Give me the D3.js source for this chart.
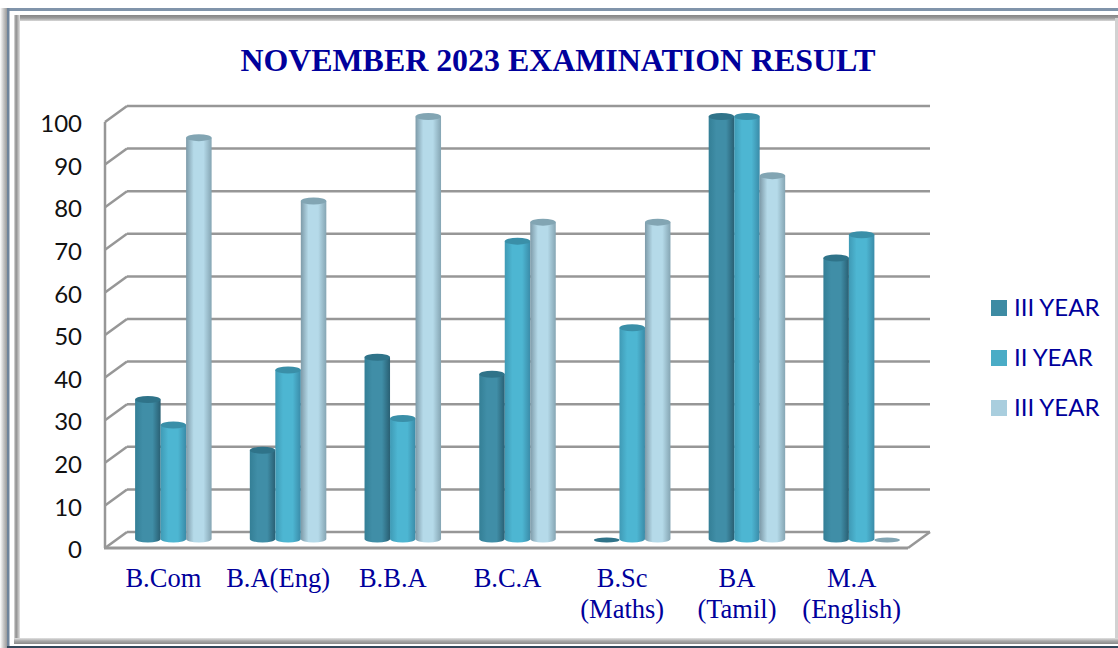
<!DOCTYPE html>
<html>
    <head>
        <title>November 2023 Examination Result</title>
        <script src="https://d3js.org/d3.v7.min.js"></script>
        <style>
            html, body { margin:0; padding:0; background:#fff; overflow:hidden; }
        </style>
    </head>
    <body>
        <svg id="graph" width="1118" height="648"></svg>
        <script>
            const categories = [["B.Com"],["B.A(Eng)"],["B.B.A"],["B.C.A"],["B.Sc","(Maths)"],["BA","(Tamil)"],["M.A","(English)"]];
            const seriesNames = ["III YEAR","II YEAR","III YEAR"];
            const seriesA = [33,21,43,39,0,100,66.5];
            const seriesB = [27,40,28.5,70.5,50,100,72];
            const seriesC = [95,80,100,75,75,86,0];
            const yTicks = [0,10,20,30,40,50,60,70,80,90,100];

            const svg = d3.select("#graph");
            const navy = "#00009c";
            const gridColor = "#979797";

            // front plane of the 3d box, back wall is shifted by depth
            const depthX = 22, depthY = -16;
            const y = d3.scaleLinear().domain([0,100]).range([548,122]);
            const x = d3.scaleBand().domain(d3.range(categories.length)).range([105,908]);
            const barW = 25.5;
            const xs = d3.scaleBand().domain([0,1,2]).range([0,barW*3]);
            const groupOffset = (x.bandwidth()-barW*3)/2 + depthX/2;
            const ry = 3.5;
            // bars sit in the middle of the floor and are a bit shorter than the wall
            const barH = d3.scaleLinear().domain([0,100]).range([0,422.5]);
            const baseY = 539;

            const colors = [
                {left:"#347f96", mid:"#408ea7", right:"#295f73", top:"#2f7389"},
                {left:"#3f9ab5", mid:"#4db6d2", right:"#3a8ba8", top:"#3a8fa8"},
                {left:"#7d9aa8", mid:"#b5dae9", right:"#85a5b3", top:"#82a5b3"}
            ];

            const defs = svg.append("defs");
            colors.forEach((c,i)=>{
                const g = defs.append("linearGradient").attr("id","cyl"+i);
                g.append("stop").attr("offset","0%").attr("stop-color",c.left);
                g.append("stop").attr("offset","30%").attr("stop-color",c.mid);
                g.append("stop").attr("offset","68%").attr("stop-color",c.mid);
                g.append("stop").attr("offset","100%").attr("stop-color",c.right);
            });
            const addBand = function(id,horizontal,stops){
                const g = defs.append("linearGradient").attr("id",id)
                    .attr("x2",horizontal?"100%":"0%").attr("y2",horizontal?"0%":"100%");
                stops.forEach((s,i)=>g.append("stop").attr("offset",i/(stops.length-1)).attr("stop-color",s));
            };
            addBand("bandTop",false,["#858585","#9a9a9a","#d8d8d8"]);
            addBand("bandLeft",true,["#e0e0e0","#8d8d8d","#b5b5b5","#e4e4e4"]);
            addBand("bandBottom",false,["#e2e2e2","#a8a8a8","#8a8a8a"]);
            addBand("shadowLeft",true,["#ffffff","#c8c8c8","#9a9a9a"]);

            //outer frame
            const frame = svg.append("g");
            const band = (x0,y0,w,h,fill)=>frame.append("rect").attr("x",x0).attr("y",y0).attr("width",w).attr("height",h).attr("fill",fill);
            band(0,8,7,640,"url(#shadowLeft)");
            band(7,8,1111,3,"#8094aa");
            band(7,8,2.5,638,"#6f849b");
            band(14,15,1104,6,"url(#bandTop)");
            band(14,15,6,624,"url(#bandLeft)");
            band(1115,18,3,620,"#d2d2d2");
            band(14,638,1104,6,"url(#bandBottom)");
            band(7,646,1111,2,"#33475a");

            //title
            svg.append("text").attr("x",558).attr("y",71).attr("text-anchor","middle")
                .attr("font-family","Liberation Serif").attr("font-weight","bold").attr("font-size",31.9)
                .attr("fill",navy).text("NOVEMBER 2023 EXAMINATION RESULT");

            //gridlines
            const grid = svg.append("g").attr("fill","none").attr("stroke",gridColor).attr("stroke-width",2.5);
            grid.selectAll("line.back").data(yTicks).join("line").attr("class","back")
                .attr("x1",105+depthX).attr("x2",908+depthX)
                .attr("y1",d=>y(d)+depthY).attr("y2",d=>y(d)+depthY);
            grid.selectAll("line.side").data(yTicks).join("line").attr("class","side")
                .attr("x1",105).attr("x2",105+depthX)
                .attr("y1",d=>y(d)).attr("y2",d=>y(d)+depthY);
            grid.append("line").attr("x1",105).attr("x2",105).attr("y1",y(0)).attr("y2",y(100));
            grid.append("line").attr("x1",104).attr("x2",908).attr("y1",y(0)).attr("y2",y(0)).attr("stroke-width",3);
            grid.append("line").attr("x1",908).attr("x2",908+depthX).attr("y1",y(0)).attr("y2",y(0)+depthY);

            //bars
            const series = [seriesA,seriesB,seriesC];
            const rows = [];
            categories.forEach((c,i)=>series.forEach((s,j)=>rows.push({cat:i,ser:j,value:s[i]})));
            const barX = d=>x(d.cat)+groupOffset+xs(d.ser);
            const topY = d=>baseY-barH(d.value);

            const bars = svg.append("g").selectAll("g.bar").data(rows).join("g").attr("class","bar");
            bars.filter(d=>d.value>0).append("path")
                .attr("fill",d=>`url(#cyl${d.ser})`)
                .attr("d",d=>{
                    const x0 = barX(d), x1 = x0+barW, rx = barW/2;
                    return `M${x0},${topY(d)}L${x0},${baseY}A${rx},${ry} 0 0 0 ${x1},${baseY}L${x1},${topY(d)}Z`;
                });
            bars.append("ellipse")
                .attr("cx",d=>barX(d)+barW/2).attr("cy",d=>d.value>0?topY(d):baseY+1)
                .attr("rx",barW/2).attr("ry",d=>d.value>0?ry:2.5)
                .attr("fill",d=>colors[d.ser].top);

            //y axis labels
            const yAxis = svg.append("g").attr("transform","translate(82,2)")
                .call(d3.axisLeft(y).tickValues(yTicks).tickSize(0).tickPadding(0));
            yAxis.select(".domain").remove();
            yAxis.selectAll("text").attr("font-family","Lato").attr("font-size",24).attr("fill","#111");

            //category labels
            const catLabels = svg.append("g").selectAll("text").data(categories).join("text")
                .attr("text-anchor","middle")
                .attr("font-family","Liberation Serif").attr("font-size",26.5).attr("fill",navy)
                .attr("transform",(d,i)=>`translate(${x(i)+x.bandwidth()/2+1},587)`);
            catLabels.selectAll("tspan").data(d=>d).join("tspan")
                .attr("x",0).attr("dy",(d,i)=>i?31:0).text(d=>d);

            //legend
            const legendY = d3.scaleBand().domain([0,1,2]).range([283,433]);
            const legend = svg.append("g").selectAll("g").data(seriesNames).join("g")
                .attr("transform",(d,i)=>`translate(991,${legendY(i)+legendY.bandwidth()/2})`);
            legend.append("rect").attr("x",0).attr("y",-8).attr("width",16).attr("height",16)
                .attr("fill",(d,i)=>["#3d8ba3","#4aacc6","#a9cede"][i]);
            legend.append("text").attr("x",23).attr("y",7.5)
                .attr("font-family","Lato").attr("font-size",24).attr("fill",navy).text(d=>d);
        </script>
    </body>
</html>
